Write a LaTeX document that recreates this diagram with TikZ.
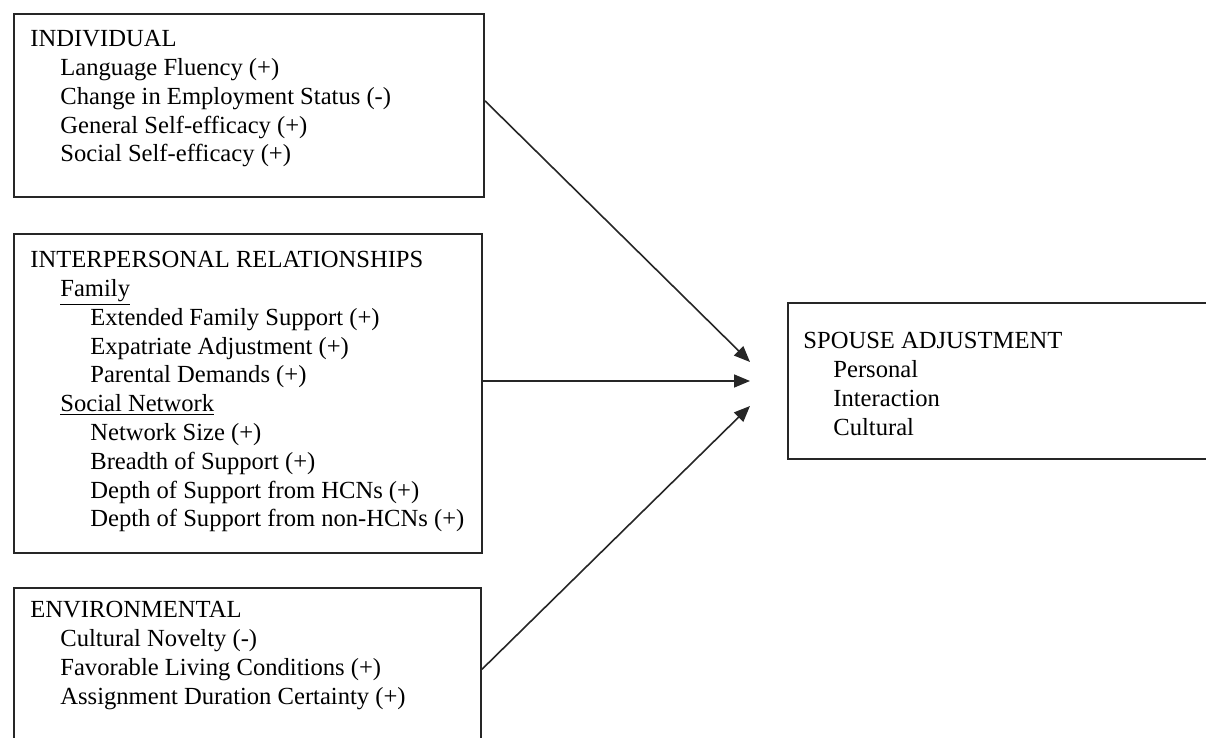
\documentclass[tikz,border=0pt]{standalone}
\usepackage{fontspec}
\setmainfont{Liberation Serif}
\usetikzlibrary{arrows.meta,calc}
\begin{document}
\begin{tikzpicture}[x=0.5pt,y=-0.5pt,
  box/.style={draw=black!85,line width=1pt,inner sep=0pt,anchor=north west},
  txt/.style={anchor=north west,inner sep=0pt,align=left,text=black,font=\fontsize{12.3}{14.4}\selectfont},
  arr/.style={draw=black!85,line width=0.8pt,-{Triangle[length=8pt,width=6.5pt]}}]
\clip (0,0) rectangle (1206,738);
\fill[white] (0,0) rectangle (1206,738);
\node[box,minimum width=235pt,minimum height=91.5pt] (ind) at (13,13) {};
\node[box,minimum width=234pt,minimum height=159.5pt] (ip) at (13,233) {};
\node[box,minimum width=233.5pt,minimum height=86.5pt] (env) at (13,587) {};
\node[box,minimum width=216.5pt,minimum height=78pt] (sp) at (787,302) {};
\node[txt] (indT) at (30,30) {INDIVIDUAL\\
\hspace*{15pt}Language Fluency (+)\\
\hspace*{15pt}Change in Employment Status (-)\\
\hspace*{15pt}General Self-efficacy (+)\\
\hspace*{15pt}Social Self-efficacy (+)};
\node[txt] (ipT) at (30,251) {INTERPERSONAL RELATIONSHIPS\\
\hspace*{15pt}\underline{Family}\\
\hspace*{30pt}Extended Family Support (+)\\
\hspace*{30pt}Expatriate Adjustment (+)\\
\hspace*{30pt}Parental Demands (+)\\
\hspace*{15pt}\underline{Social Network}\\
\hspace*{30pt}Network Size (+)\\
\hspace*{30pt}Breadth of Support (+)\\
\hspace*{30pt}Depth of Support from HCNs (+)\\
\hspace*{30pt}Depth of Support from non-HCNs (+)};
\node[txt] (envT) at (30,601) {ENVIRONMENTAL\\
\hspace*{15pt}Cultural Novelty (-)\\
\hspace*{15pt}Favorable Living Conditions (+)\\
\hspace*{15pt}Assignment Duration Certainty (+)};
\node[txt] (spT) at (803,332) {SPOUSE ADJUSTMENT\\
\hspace*{15pt}Personal\\
\hspace*{15pt}Interaction\\
\hspace*{15pt}Cultural};
\coordinate (t1) at (750,362);
\coordinate (t2) at (750,381);
\coordinate (t3) at (750,406);
\draw[arr] ($(ind.north east)!0.475!(ind.south east)$) -- (t1);
\draw[arr] (ip.east |- t2) -- (t2);
\draw[arr] ($(env.north east)!0.47!(env.south east)$) -- (t3);
\end{tikzpicture}
\end{document}
